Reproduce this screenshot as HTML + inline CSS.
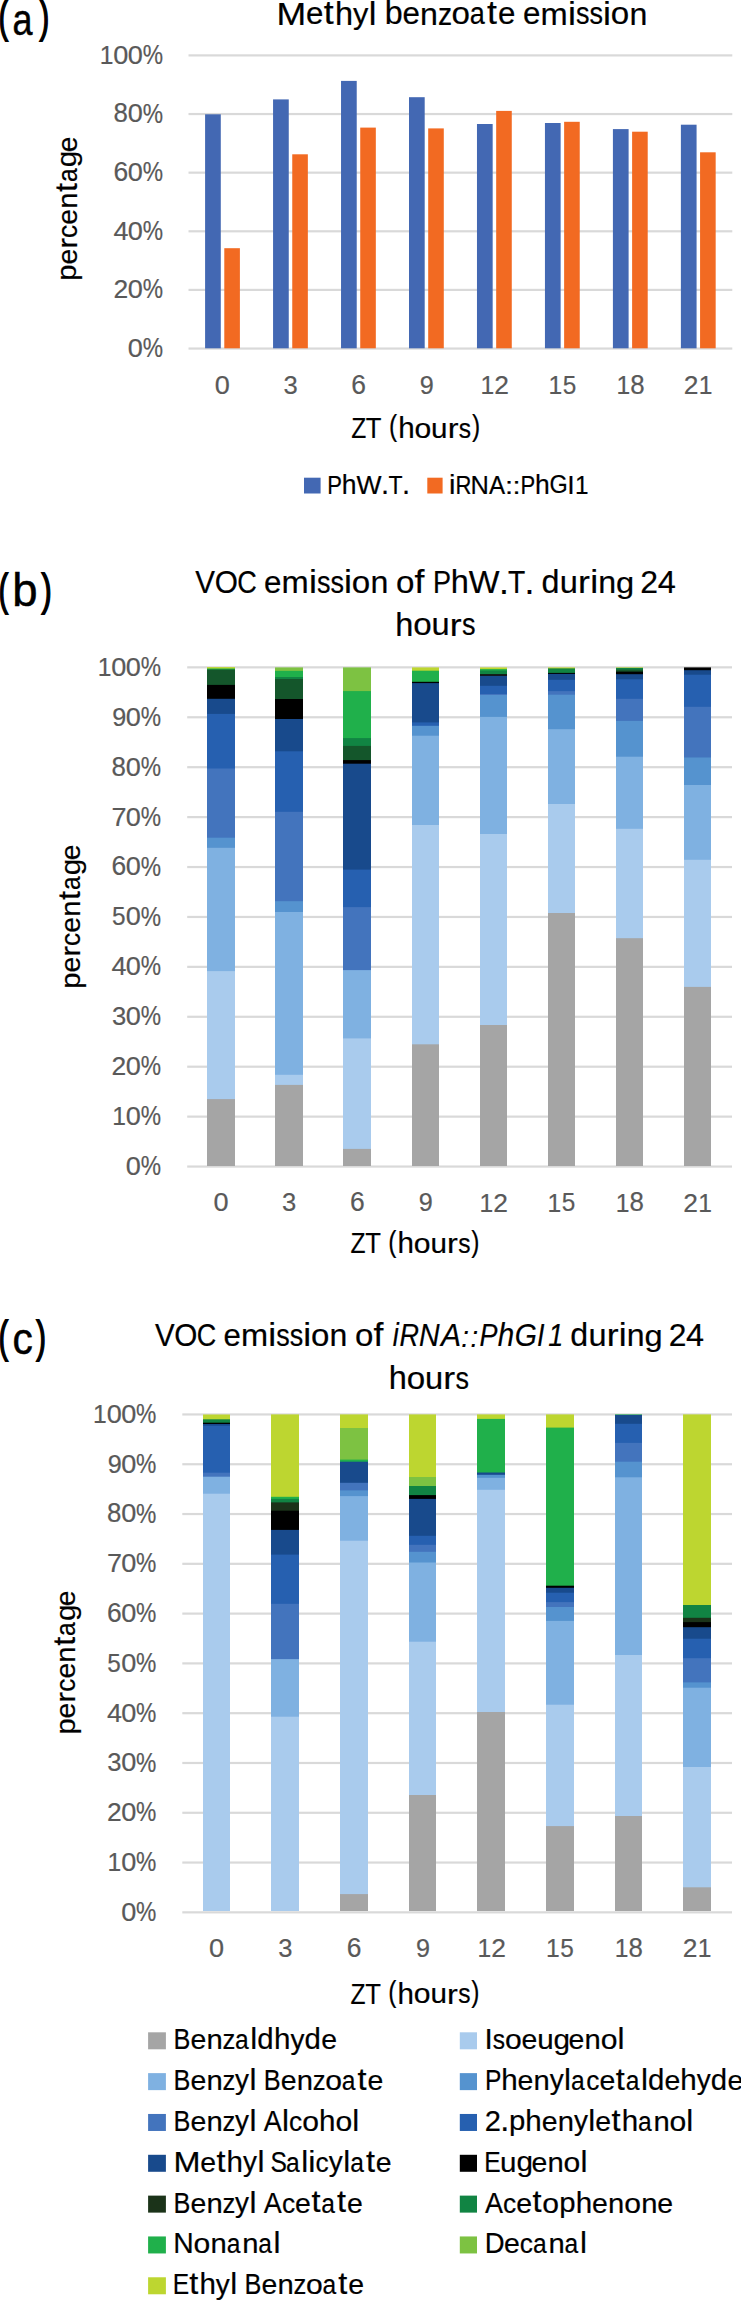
<!DOCTYPE html>
<html><head><meta charset="utf-8"><title>VOC emission charts</title>
<style>
html,body{margin:0;padding:0;background:#fff;}
body{width:741px;height:2300px;overflow:hidden;}
svg{display:block;font-family:"Liberation Sans", sans-serif;}
</style></head>
<body>
<svg width="741" height="2300" viewBox="0 0 741 2300">
<rect x="0" y="0" width="741" height="2300" fill="#fff"/>
<text transform="translate(-1.20,32.45) scale(0.6089,1)" font-size="45.24" fill="#000" stroke="#000" stroke-width="1.90">(</text>
<text transform="translate(12.61,34.51) scale(0.8164,1)" font-size="44.00" fill="#000" stroke="#000" stroke-width="0.50">a</text>
<text transform="translate(39.71,32.45) scale(0.6172,1)" font-size="45.24" fill="#000" stroke="#000" stroke-width="1.90">)</text>
<g font-size="31.83" fill="#000" stroke="#000" stroke-width="0.20"><text transform="translate(276.40,24.60) scale(1.120,1.008)">M</text><text transform="translate(305.95,24.46) scale(0.983,0.968)">e</text><text transform="translate(323.84,24.43) scale(1.120,1.062)">t</text><text transform="translate(334.94,24.60) scale(1.022,1.034)">h</text><text transform="translate(352.99,23.85) scale(0.966,0.940)">y</text><text transform="translate(368.81,24.60) scale(1.087,1.034)">l</text><text transform="translate(384.72,24.45) scale(1.014,1.028)">b</text><text transform="translate(402.54,24.46) scale(0.983,0.968)">e</text><text transform="translate(420.12,24.60) scale(1.010,0.976)">n</text><text transform="translate(437.88,24.60) scale(0.888,0.984)">z</text><text transform="translate(451.52,24.46) scale(1.041,0.968)">o</text><text transform="translate(469.79,24.46) scale(0.850,0.968)">a</text><text transform="translate(487.09,24.43) scale(1.120,1.062)">t</text><text transform="translate(498.01,24.46) scale(0.983,0.968)">e</text><text transform="translate(523.05,24.46) scale(0.983,0.968)">e</text><text transform="translate(540.60,24.60) scale(1.025,0.976)">m</text><text transform="translate(568.00,24.60) scale(1.120,1.034)">i</text><text transform="translate(576.02,24.46) scale(0.850,0.977)">s</text><text transform="translate(589.55,24.46) scale(0.850,0.977)">s</text><text transform="translate(603.01,24.60) scale(1.120,1.034)">i</text><text transform="translate(610.77,24.46) scale(1.041,0.968)">o</text><text transform="translate(629.47,24.60) scale(1.010,0.976)">n</text></g>
<rect x="188.50" y="54.30" width="543.80" height="2.20" fill="#D9D9D9"/>
<rect x="188.50" y="112.93" width="543.80" height="2.20" fill="#D9D9D9"/>
<rect x="188.50" y="171.56" width="543.80" height="2.20" fill="#D9D9D9"/>
<rect x="188.50" y="230.19" width="543.80" height="2.20" fill="#D9D9D9"/>
<rect x="188.50" y="288.82" width="543.80" height="2.20" fill="#D9D9D9"/>
<rect x="188.50" y="347.45" width="543.80" height="2.20" fill="#D9D9D9"/>
<g font-size="26.31" fill="#595959" stroke="#595959" stroke-width="0.20"><text transform="translate(99.70,63.95) scale(0.937,1.008)">1</text><text transform="translate(113.25,63.83) scale(1.030,0.995)">0</text><text transform="translate(127.74,63.83) scale(1.030,0.995)">0</text><text transform="translate(142.67,63.95) scale(0.868,1.079)">%</text></g>
<g font-size="26.31" fill="#595959" stroke="#595959" stroke-width="0.20"><text transform="translate(113.60,122.44) scale(0.983,1.064)">8</text><text transform="translate(127.74,122.46) scale(1.030,0.995)">0</text><text transform="translate(142.67,122.58) scale(0.868,1.079)">%</text></g>
<g font-size="26.31" fill="#595959" stroke="#595959" stroke-width="0.20"><text transform="translate(113.58,181.08) scale(1.005,1.049)">6</text><text transform="translate(127.74,181.09) scale(1.030,0.995)">0</text><text transform="translate(142.67,181.21) scale(0.868,1.079)">%</text></g>
<g font-size="26.31" fill="#595959" stroke="#595959" stroke-width="0.20"><text transform="translate(113.51,239.84) scale(1.022,1.008)">4</text><text transform="translate(127.74,239.72) scale(1.030,0.995)">0</text><text transform="translate(142.67,239.84) scale(0.868,1.079)">%</text></g>
<g font-size="26.31" fill="#595959" stroke="#595959" stroke-width="0.20"><text transform="translate(113.58,298.47) scale(1.003,1.002)">2</text><text transform="translate(127.74,298.35) scale(1.030,0.995)">0</text><text transform="translate(142.67,298.47) scale(0.868,1.079)">%</text></g>
<g font-size="26.31" fill="#595959" stroke="#595959" stroke-width="0.20"><text transform="translate(127.74,356.98) scale(1.030,0.995)">0</text><text transform="translate(142.67,357.10) scale(0.868,1.079)">%</text></g>
<rect x="205.09" y="114.30" width="15.70" height="234.00" fill="#4368B3"/>
<rect x="224.29" y="248.20" width="15.60" height="100.10" fill="#F26A22"/>
<rect x="273.06" y="99.40" width="15.70" height="248.90" fill="#4368B3"/>
<rect x="292.25" y="154.30" width="15.60" height="194.00" fill="#F26A22"/>
<rect x="341.03" y="80.90" width="15.70" height="267.40" fill="#4368B3"/>
<rect x="360.23" y="127.60" width="15.60" height="220.70" fill="#F26A22"/>
<rect x="409.00" y="97.20" width="15.70" height="251.10" fill="#4368B3"/>
<rect x="428.19" y="128.40" width="15.60" height="219.90" fill="#F26A22"/>
<rect x="476.97" y="124.00" width="15.70" height="224.30" fill="#4368B3"/>
<rect x="496.17" y="110.90" width="15.60" height="237.40" fill="#F26A22"/>
<rect x="544.94" y="123.00" width="15.70" height="225.30" fill="#4368B3"/>
<rect x="564.13" y="121.80" width="15.60" height="226.50" fill="#F26A22"/>
<rect x="612.91" y="129.10" width="15.70" height="219.20" fill="#4368B3"/>
<rect x="632.11" y="131.70" width="15.60" height="216.60" fill="#F26A22"/>
<rect x="680.88" y="124.70" width="15.70" height="223.60" fill="#4368B3"/>
<rect x="700.07" y="152.30" width="15.60" height="196.00" fill="#F26A22"/>
<g font-size="26.31" fill="#595959" stroke="#595959" stroke-width="0.20"><text transform="translate(214.87,394.28) scale(1.030,0.995)">0</text></g>
<g font-size="26.31" fill="#595959" stroke="#595959" stroke-width="0.20"><text transform="translate(283.47,394.28) scale(0.973,0.995)">3</text></g>
<g font-size="26.31" fill="#595959" stroke="#595959" stroke-width="0.20"><text transform="translate(351.14,394.27) scale(1.005,1.049)">6</text></g>
<g font-size="26.31" fill="#595959" stroke="#595959" stroke-width="0.20"><text transform="translate(419.87,394.14) scale(0.958,0.987)">9</text></g>
<g font-size="26.31" fill="#595959" stroke="#595959" stroke-width="0.20"><text transform="translate(480.45,394.40) scale(0.937,1.008)">1</text><text transform="translate(494.33,394.40) scale(1.003,1.002)">2</text></g>
<g font-size="26.31" fill="#595959" stroke="#595959" stroke-width="0.20"><text transform="translate(548.42,394.40) scale(0.937,1.008)">1</text><text transform="translate(562.65,394.28) scale(0.927,1.002)">5</text></g>
<g font-size="26.31" fill="#595959" stroke="#595959" stroke-width="0.20"><text transform="translate(616.39,394.40) scale(0.937,1.008)">1</text><text transform="translate(630.29,394.26) scale(0.983,1.064)">8</text></g>
<g font-size="26.31" fill="#595959" stroke="#595959" stroke-width="0.20"><text transform="translate(683.75,394.40) scale(1.003,1.002)">2</text><text transform="translate(698.86,394.40) scale(0.937,1.008)">1</text></g>
<g font-size="28.93" fill="#000" stroke="#000" stroke-width="0.20"><text transform="translate(351.20,438.00) scale(0.850,1.008)">Z</text><text transform="translate(365.84,438.00) scale(0.887,1.008)">T</text><text transform="translate(388.93,436.26) scale(0.850,1.011)">(</text><text transform="translate(398.14,438.00) scale(1.022,1.034)">h</text><text transform="translate(414.43,437.88) scale(1.041,0.968)">o</text><text transform="translate(431.08,437.87) scale(1.023,0.976)">u</text><text transform="translate(447.70,438.00) scale(1.120,0.976)">r</text><text transform="translate(458.73,437.87) scale(0.850,0.977)">s</text><text transform="translate(471.93,436.14) scale(0.850,1.006)">)</text></g>
<g font-size="28.89" fill="#000" stroke="#000" stroke-width="0.20" transform="translate(76.80,278.80) rotate(-90)"><text transform="translate(-1.90,-0.65) scale(1.014,0.935)">p</text><text transform="translate(14.26,-0.12) scale(0.983,0.968)">e</text><text transform="translate(29.98,0.00) scale(1.120,0.976)">r</text><text transform="translate(40.91,-0.12) scale(0.912,0.968)">c</text><text transform="translate(54.11,-0.12) scale(0.983,0.968)">e</text><text transform="translate(70.07,0.00) scale(1.010,0.976)">n</text><text transform="translate(86.84,-0.15) scale(1.120,1.062)">t</text><text transform="translate(96.70,-0.12) scale(0.850,0.968)">a</text><text transform="translate(111.58,-0.57) scale(1.027,0.948)">g</text><text transform="translate(126.57,-0.12) scale(0.983,0.968)">e</text></g>
<rect x="304.00" y="477.70" width="16.60" height="15.80" fill="#4368B3"/>
<g font-size="25.94" fill="#000" stroke="#000" stroke-width="0.20"><text transform="translate(327.19,493.50) scale(0.850,1.008)">P</text><text transform="translate(341.71,493.50) scale(1.022,1.034)">h</text><text transform="translate(356.42,493.50) scale(1.023,1.008)">W</text><text transform="translate(381.03,493.64) scale(1.120,1.150)">.</text><text transform="translate(388.44,493.50) scale(0.887,1.008)">T</text><text transform="translate(401.89,493.64) scale(1.120,1.150)">.</text></g>
<rect x="427.30" y="477.70" width="15.30" height="15.80" fill="#F26A22"/>
<g font-size="25.94" fill="#000" stroke="#000" stroke-width="0.20"><text transform="translate(448.90,493.50) scale(1.120,1.034)">i</text><text transform="translate(455.39,493.50) scale(0.850,1.008)">R</text><text transform="translate(470.57,493.50) scale(0.980,1.008)">N</text><text transform="translate(488.98,493.50) scale(0.932,1.008)">A</text><text transform="translate(504.89,493.64) scale(1.120,0.923)">:</text><text transform="translate(512.44,493.64) scale(1.120,0.923)">:</text><text transform="translate(520.41,493.50) scale(0.850,1.008)">P</text><text transform="translate(534.93,493.50) scale(1.022,1.034)">h</text><text transform="translate(549.44,493.38) scale(0.904,0.995)">G</text><text transform="translate(567.27,493.50) scale(1.030,1.008)">I</text><text transform="translate(575.10,493.50) scale(0.937,1.008)">1</text></g>
<text transform="translate(-1.20,605.05) scale(0.6089,1)" font-size="45.24" fill="#000" stroke="#000" stroke-width="1.90">(</text>
<text transform="translate(12.29,606.08) scale(0.9790,1)" font-size="46.53" fill="#000" stroke="#000" stroke-width="0.50">b</text>
<text transform="translate(41.70,605.05) scale(0.6506,1)" font-size="45.24" fill="#000" stroke="#000" stroke-width="1.90">)</text>
<g font-size="31.83" fill="#000" stroke="#000" stroke-width="0.20"><text transform="translate(195.23,593.40) scale(0.929,1.008)">V</text><text transform="translate(214.71,593.26) scale(0.936,0.995)">O</text><text transform="translate(237.15,593.26) scale(0.850,0.995)">C</text><text transform="translate(263.98,593.26) scale(0.983,0.968)">e</text><text transform="translate(281.54,593.40) scale(1.025,0.976)">m</text><text transform="translate(308.93,593.40) scale(1.120,1.034)">i</text><text transform="translate(316.95,593.26) scale(0.850,0.977)">s</text><text transform="translate(330.48,593.26) scale(0.850,0.977)">s</text><text transform="translate(343.94,593.40) scale(1.120,1.034)">i</text><text transform="translate(351.71,593.26) scale(1.041,0.968)">o</text><text transform="translate(370.40,593.40) scale(1.010,0.976)">n</text><text transform="translate(395.95,593.26) scale(1.041,0.968)">o</text><text transform="translate(414.42,593.40) scale(1.120,1.034)">f</text><text transform="translate(432.89,593.40) scale(0.850,1.008)">P</text><text transform="translate(450.71,593.40) scale(1.022,1.034)">h</text><text transform="translate(468.76,593.40) scale(1.023,1.008)">W</text><text transform="translate(498.95,593.57) scale(1.120,1.150)">.</text><text transform="translate(508.05,593.40) scale(0.887,1.008)">T</text><text transform="translate(524.55,593.57) scale(1.120,1.150)">.</text><text transform="translate(541.60,593.25) scale(1.014,1.028)">d</text><text transform="translate(559.82,593.26) scale(1.023,0.976)">u</text><text transform="translate(578.10,593.40) scale(1.120,0.976)">r</text><text transform="translate(590.16,593.40) scale(1.120,1.034)">i</text><text transform="translate(598.37,593.40) scale(1.010,0.976)">n</text><text transform="translate(615.95,592.77) scale(1.027,0.948)">g</text><text transform="translate(640.29,593.40) scale(1.003,1.002)">2</text><text transform="translate(657.73,593.40) scale(1.022,1.008)">4</text></g>
<g font-size="31.83" fill="#000" stroke="#000" stroke-width="0.20"><text transform="translate(395.27,635.60) scale(1.022,1.034)">h</text><text transform="translate(413.19,635.46) scale(1.041,0.968)">o</text><text transform="translate(431.51,635.46) scale(1.023,0.976)">u</text><text transform="translate(449.79,635.60) scale(1.120,0.976)">r</text><text transform="translate(461.93,635.46) scale(0.850,0.977)">s</text></g>
<rect x="187.20" y="666.25" width="544.80" height="2.20" fill="#D9D9D9"/>
<rect x="187.20" y="716.17" width="544.80" height="2.20" fill="#D9D9D9"/>
<rect x="187.20" y="766.09" width="544.80" height="2.20" fill="#D9D9D9"/>
<rect x="187.20" y="816.01" width="544.80" height="2.20" fill="#D9D9D9"/>
<rect x="187.20" y="865.93" width="544.80" height="2.20" fill="#D9D9D9"/>
<rect x="187.20" y="915.85" width="544.80" height="2.20" fill="#D9D9D9"/>
<rect x="187.20" y="965.77" width="544.80" height="2.20" fill="#D9D9D9"/>
<rect x="187.20" y="1015.69" width="544.80" height="2.20" fill="#D9D9D9"/>
<rect x="187.20" y="1065.61" width="544.80" height="2.20" fill="#D9D9D9"/>
<rect x="187.20" y="1115.53" width="544.80" height="2.20" fill="#D9D9D9"/>
<rect x="187.20" y="1165.45" width="544.80" height="2.20" fill="#D9D9D9"/>
<g font-size="26.31" fill="#595959" stroke="#595959" stroke-width="0.20"><text transform="translate(97.70,675.90) scale(0.937,1.008)">1</text><text transform="translate(111.25,675.78) scale(1.030,0.995)">0</text><text transform="translate(125.74,675.78) scale(1.030,0.995)">0</text><text transform="translate(140.67,675.90) scale(0.868,1.079)">%</text></g>
<g font-size="26.31" fill="#595959" stroke="#595959" stroke-width="0.20"><text transform="translate(112.34,725.56) scale(0.958,0.987)">9</text><text transform="translate(125.74,725.70) scale(1.030,0.995)">0</text><text transform="translate(140.67,725.82) scale(0.868,1.079)">%</text></g>
<g font-size="26.31" fill="#595959" stroke="#595959" stroke-width="0.20"><text transform="translate(111.60,775.60) scale(0.983,1.064)">8</text><text transform="translate(125.74,775.62) scale(1.030,0.995)">0</text><text transform="translate(140.67,775.74) scale(0.868,1.079)">%</text></g>
<g font-size="26.31" fill="#595959" stroke="#595959" stroke-width="0.20"><text transform="translate(111.55,825.66) scale(1.027,1.008)">7</text><text transform="translate(125.74,825.54) scale(1.030,0.995)">0</text><text transform="translate(140.67,825.66) scale(0.868,1.079)">%</text></g>
<g font-size="26.31" fill="#595959" stroke="#595959" stroke-width="0.20"><text transform="translate(111.58,875.45) scale(1.005,1.049)">6</text><text transform="translate(125.74,875.46) scale(1.030,0.995)">0</text><text transform="translate(140.67,875.58) scale(0.868,1.079)">%</text></g>
<g font-size="26.31" fill="#595959" stroke="#595959" stroke-width="0.20"><text transform="translate(111.93,925.38) scale(0.927,1.002)">5</text><text transform="translate(125.74,925.38) scale(1.030,0.995)">0</text><text transform="translate(140.67,925.50) scale(0.868,1.079)">%</text></g>
<g font-size="26.31" fill="#595959" stroke="#595959" stroke-width="0.20"><text transform="translate(111.51,975.42) scale(1.022,1.008)">4</text><text transform="translate(125.74,975.30) scale(1.030,0.995)">0</text><text transform="translate(140.67,975.42) scale(0.868,1.079)">%</text></g>
<g font-size="26.31" fill="#595959" stroke="#595959" stroke-width="0.20"><text transform="translate(111.88,1025.22) scale(0.973,0.995)">3</text><text transform="translate(125.74,1025.22) scale(1.030,0.995)">0</text><text transform="translate(140.67,1025.34) scale(0.868,1.079)">%</text></g>
<g font-size="26.31" fill="#595959" stroke="#595959" stroke-width="0.20"><text transform="translate(111.58,1075.26) scale(1.003,1.002)">2</text><text transform="translate(125.74,1075.14) scale(1.030,0.995)">0</text><text transform="translate(140.67,1075.26) scale(0.868,1.079)">%</text></g>
<g font-size="26.31" fill="#595959" stroke="#595959" stroke-width="0.20"><text transform="translate(112.20,1125.18) scale(0.937,1.008)">1</text><text transform="translate(125.74,1125.06) scale(1.030,0.995)">0</text><text transform="translate(140.67,1125.18) scale(0.868,1.079)">%</text></g>
<g font-size="26.31" fill="#595959" stroke="#595959" stroke-width="0.20"><text transform="translate(125.74,1174.98) scale(1.030,0.995)">0</text><text transform="translate(140.67,1175.10) scale(0.868,1.079)">%</text></g>
<rect x="207.00" y="667.10" width="28.00" height="2.40" fill="#BDD630"/>
<rect x="207.00" y="668.50" width="28.00" height="2.00" fill="#20B04B"/>
<rect x="207.00" y="669.50" width="28.00" height="16.40" fill="#14562B"/>
<rect x="207.00" y="684.90" width="28.00" height="14.90" fill="#000000"/>
<rect x="207.00" y="698.80" width="28.00" height="16.10" fill="#184A8C"/>
<rect x="207.00" y="713.90" width="28.00" height="55.60" fill="#2660B0"/>
<rect x="207.00" y="768.50" width="28.00" height="70.20" fill="#4374BD"/>
<rect x="207.00" y="837.70" width="28.00" height="11.10" fill="#5593CF"/>
<rect x="207.00" y="847.80" width="28.00" height="124.30" fill="#7FB1E1"/>
<rect x="207.00" y="971.10" width="28.00" height="129.00" fill="#A9CBED"/>
<rect x="207.00" y="1099.10" width="28.00" height="66.90" fill="#A5A5A5"/>
<rect x="275.00" y="667.40" width="28.00" height="4.50" fill="#7DC242"/>
<rect x="275.00" y="670.90" width="28.00" height="7.10" fill="#20B04B"/>
<rect x="275.00" y="677.00" width="28.00" height="3.00" fill="#118443"/>
<rect x="275.00" y="679.00" width="28.00" height="21.00" fill="#14562B"/>
<rect x="275.00" y="699.00" width="28.00" height="21.00" fill="#000000"/>
<rect x="275.00" y="719.00" width="28.00" height="33.30" fill="#184A8C"/>
<rect x="275.00" y="751.30" width="28.00" height="61.50" fill="#2660B0"/>
<rect x="275.00" y="811.80" width="28.00" height="90.40" fill="#4374BD"/>
<rect x="275.00" y="901.20" width="28.00" height="11.80" fill="#5593CF"/>
<rect x="275.00" y="912.00" width="28.00" height="163.80" fill="#7FB1E1"/>
<rect x="275.00" y="1074.80" width="28.00" height="11.10" fill="#A9CBED"/>
<rect x="275.00" y="1084.90" width="28.00" height="81.10" fill="#A5A5A5"/>
<rect x="343.00" y="667.40" width="28.00" height="24.70" fill="#7DC242"/>
<rect x="343.00" y="691.10" width="28.00" height="48.00" fill="#20B04B"/>
<rect x="343.00" y="738.10" width="28.00" height="8.80" fill="#118443"/>
<rect x="343.00" y="745.90" width="28.00" height="15.20" fill="#14562B"/>
<rect x="343.00" y="760.10" width="28.00" height="4.60" fill="#000000"/>
<rect x="343.00" y="763.70" width="28.00" height="106.90" fill="#184A8C"/>
<rect x="343.00" y="869.60" width="28.00" height="38.50" fill="#2660B0"/>
<rect x="343.00" y="907.10" width="28.00" height="64.00" fill="#4374BD"/>
<rect x="343.00" y="970.10" width="28.00" height="69.30" fill="#7FB1E1"/>
<rect x="343.00" y="1038.40" width="28.00" height="111.50" fill="#A9CBED"/>
<rect x="343.00" y="1148.90" width="28.00" height="17.10" fill="#A5A5A5"/>
<rect x="412.00" y="667.40" width="27.00" height="4.30" fill="#BDD630"/>
<rect x="412.00" y="670.70" width="27.00" height="12.10" fill="#20B04B"/>
<rect x="412.00" y="681.80" width="27.00" height="2.30" fill="#000000"/>
<rect x="412.00" y="683.10" width="27.00" height="40.30" fill="#184A8C"/>
<rect x="412.00" y="722.40" width="27.00" height="4.40" fill="#2660B0"/>
<rect x="412.00" y="725.80" width="27.00" height="10.90" fill="#5593CF"/>
<rect x="412.00" y="735.70" width="27.00" height="90.30" fill="#7FB1E1"/>
<rect x="412.00" y="825.00" width="27.00" height="220.30" fill="#A9CBED"/>
<rect x="412.00" y="1044.30" width="27.00" height="121.70" fill="#A5A5A5"/>
<rect x="480.00" y="667.40" width="27.00" height="2.70" fill="#BDD630"/>
<rect x="480.00" y="669.10" width="27.00" height="2.40" fill="#20B04B"/>
<rect x="480.00" y="670.50" width="27.00" height="4.60" fill="#118443"/>
<rect x="480.00" y="674.10" width="27.00" height="2.80" fill="#141414"/>
<rect x="480.00" y="675.90" width="27.00" height="10.90" fill="#184A8C"/>
<rect x="480.00" y="685.80" width="27.00" height="9.20" fill="#2660B0"/>
<rect x="480.00" y="694.00" width="27.00" height="2.00" fill="#4374BD"/>
<rect x="480.00" y="695.00" width="27.00" height="22.90" fill="#5593CF"/>
<rect x="480.00" y="716.90" width="27.00" height="118.10" fill="#7FB1E1"/>
<rect x="480.00" y="834.00" width="27.00" height="192.00" fill="#A9CBED"/>
<rect x="480.00" y="1025.00" width="27.00" height="141.00" fill="#A5A5A5"/>
<rect x="548.00" y="667.40" width="27.00" height="2.00" fill="#BDD630"/>
<rect x="548.00" y="668.40" width="27.00" height="5.50" fill="#118443"/>
<rect x="548.00" y="672.90" width="27.00" height="2.00" fill="#000000"/>
<rect x="548.00" y="673.90" width="27.00" height="6.90" fill="#184A8C"/>
<rect x="548.00" y="679.80" width="27.00" height="12.30" fill="#2660B0"/>
<rect x="548.00" y="691.10" width="27.00" height="4.60" fill="#4374BD"/>
<rect x="548.00" y="694.70" width="27.00" height="35.50" fill="#5593CF"/>
<rect x="548.00" y="729.20" width="27.00" height="75.80" fill="#7FB1E1"/>
<rect x="548.00" y="804.00" width="27.00" height="110.00" fill="#A9CBED"/>
<rect x="548.00" y="913.00" width="27.00" height="253.00" fill="#A5A5A5"/>
<rect x="616.00" y="667.40" width="27.00" height="1.50" fill="#BDD630"/>
<rect x="616.00" y="667.90" width="27.00" height="2.70" fill="#118443"/>
<rect x="616.00" y="669.60" width="27.00" height="3.00" fill="#14562B"/>
<rect x="616.00" y="671.60" width="27.00" height="3.60" fill="#000000"/>
<rect x="616.00" y="674.20" width="27.00" height="6.10" fill="#184A8C"/>
<rect x="616.00" y="679.30" width="27.00" height="20.50" fill="#2660B0"/>
<rect x="616.00" y="698.80" width="27.00" height="23.10" fill="#4374BD"/>
<rect x="616.00" y="720.90" width="27.00" height="36.80" fill="#5593CF"/>
<rect x="616.00" y="756.70" width="27.00" height="73.10" fill="#7FB1E1"/>
<rect x="616.00" y="828.80" width="27.00" height="110.40" fill="#A9CBED"/>
<rect x="616.00" y="938.20" width="27.00" height="227.80" fill="#A5A5A5"/>
<rect x="684.00" y="667.40" width="27.00" height="3.80" fill="#000000"/>
<rect x="684.00" y="670.20" width="27.00" height="5.50" fill="#184A8C"/>
<rect x="684.00" y="674.70" width="27.00" height="33.10" fill="#2660B0"/>
<rect x="684.00" y="706.80" width="27.00" height="51.70" fill="#4374BD"/>
<rect x="684.00" y="757.50" width="27.00" height="28.50" fill="#5593CF"/>
<rect x="684.00" y="785.00" width="27.00" height="75.80" fill="#7FB1E1"/>
<rect x="684.00" y="859.80" width="27.00" height="128.10" fill="#A9CBED"/>
<rect x="684.00" y="986.90" width="27.00" height="179.10" fill="#A5A5A5"/>
<g font-size="26.31" fill="#595959" stroke="#595959" stroke-width="0.20"><text transform="translate(213.38,1211.38) scale(1.030,0.995)">0</text></g>
<g font-size="26.31" fill="#595959" stroke="#595959" stroke-width="0.20"><text transform="translate(282.12,1211.38) scale(0.973,0.995)">3</text></g>
<g font-size="26.31" fill="#595959" stroke="#595959" stroke-width="0.20"><text transform="translate(349.92,1211.37) scale(1.005,1.049)">6</text></g>
<g font-size="26.31" fill="#595959" stroke="#595959" stroke-width="0.20"><text transform="translate(418.78,1211.24) scale(0.958,0.987)">9</text></g>
<g font-size="26.31" fill="#595959" stroke="#595959" stroke-width="0.20"><text transform="translate(479.49,1211.50) scale(0.937,1.008)">1</text><text transform="translate(493.37,1211.50) scale(1.003,1.002)">2</text></g>
<g font-size="26.31" fill="#595959" stroke="#595959" stroke-width="0.20"><text transform="translate(547.59,1211.50) scale(0.937,1.008)">1</text><text transform="translate(561.81,1211.38) scale(0.927,1.002)">5</text></g>
<g font-size="26.31" fill="#595959" stroke="#595959" stroke-width="0.20"><text transform="translate(615.69,1211.50) scale(0.937,1.008)">1</text><text transform="translate(629.58,1211.36) scale(0.983,1.064)">8</text></g>
<g font-size="26.31" fill="#595959" stroke="#595959" stroke-width="0.20"><text transform="translate(683.17,1211.50) scale(1.003,1.002)">2</text><text transform="translate(698.28,1211.50) scale(0.937,1.008)">1</text></g>
<g font-size="28.93" fill="#000" stroke="#000" stroke-width="0.20"><text transform="translate(350.60,1253.40) scale(0.850,1.008)">Z</text><text transform="translate(365.24,1253.40) scale(0.887,1.008)">T</text><text transform="translate(388.33,1251.66) scale(0.850,1.011)">(</text><text transform="translate(397.54,1253.40) scale(1.022,1.034)">h</text><text transform="translate(413.83,1253.28) scale(1.041,0.968)">o</text><text transform="translate(430.48,1253.27) scale(1.023,0.976)">u</text><text transform="translate(447.10,1253.40) scale(1.120,0.976)">r</text><text transform="translate(458.13,1253.27) scale(0.850,0.977)">s</text><text transform="translate(471.33,1251.54) scale(0.850,1.006)">)</text></g>
<g font-size="28.89" fill="#000" stroke="#000" stroke-width="0.20" transform="translate(80.30,986.80) rotate(-90)"><text transform="translate(-1.90,-0.65) scale(1.014,0.935)">p</text><text transform="translate(14.26,-0.12) scale(0.983,0.968)">e</text><text transform="translate(29.98,0.00) scale(1.120,0.976)">r</text><text transform="translate(40.91,-0.12) scale(0.912,0.968)">c</text><text transform="translate(54.11,-0.12) scale(0.983,0.968)">e</text><text transform="translate(70.07,0.00) scale(1.010,0.976)">n</text><text transform="translate(86.84,-0.15) scale(1.120,1.062)">t</text><text transform="translate(96.70,-0.12) scale(0.850,0.968)">a</text><text transform="translate(111.58,-0.57) scale(1.027,0.948)">g</text><text transform="translate(126.57,-0.12) scale(0.983,0.968)">e</text></g>
<text transform="translate(-1.20,1352.48) scale(0.6177,1)" font-size="44.60" fill="#000" stroke="#000" stroke-width="1.90">(</text>
<text transform="translate(12.42,1354.01) scale(0.9286,1)" font-size="43.82" fill="#000" stroke="#000" stroke-width="0.50">c</text>
<text transform="translate(36.41,1352.48) scale(0.6261,1)" font-size="44.60" fill="#000" stroke="#000" stroke-width="1.90">)</text>
<g font-size="31.74" fill="#000" stroke="#000" stroke-width="0.20"><text transform="translate(154.95,1346.40) scale(0.929,1.008)">V</text><text transform="translate(174.37,1346.26) scale(0.936,0.995)">O</text><text transform="translate(196.75,1346.26) scale(0.850,0.995)">C</text><text transform="translate(223.50,1346.27) scale(0.983,0.968)">e</text><text transform="translate(241.01,1346.40) scale(1.025,0.976)">m</text><text transform="translate(268.32,1346.40) scale(1.120,1.034)">i</text><text transform="translate(276.32,1346.26) scale(0.850,0.977)">s</text><text transform="translate(289.81,1346.26) scale(0.850,0.977)">s</text><text transform="translate(303.23,1346.40) scale(1.120,1.034)">i</text><text transform="translate(310.97,1346.27) scale(1.041,0.968)">o</text><text transform="translate(329.61,1346.40) scale(1.010,0.976)">n</text><text transform="translate(355.09,1346.27) scale(1.041,0.968)">o</text><text transform="translate(373.51,1346.40) scale(1.120,1.034)">f</text><text transform="translate(392.79,1346.40) scale(0.850,1.034)" font-style="italic">i</text><text transform="translate(399.51,1346.40) scale(0.850,1.008)" font-style="italic">R</text><text transform="translate(419.08,1346.40) scale(0.899,1.008)" font-style="italic">N</text><text transform="translate(441.09,1346.40) scale(0.948,1.008)" font-style="italic">A</text><text transform="translate(461.20,1346.57) scale(0.870,0.923)" font-style="italic">:</text><text transform="translate(470.43,1346.57) scale(0.870,0.923)" font-style="italic">:</text><text transform="translate(479.48,1346.40) scale(0.850,1.008)" font-style="italic">P</text><text transform="translate(497.80,1346.40) scale(0.933,1.034)" font-style="italic">h</text><text transform="translate(514.73,1346.26) scale(0.897,0.995)" font-style="italic">G</text><text transform="translate(537.00,1346.40) scale(0.850,1.008)" font-style="italic">I</text><text transform="translate(548.13,1346.40) scale(0.850,1.008)" font-style="italic">1</text><text transform="translate(570.26,1346.25) scale(1.014,1.028)">d</text><text transform="translate(588.43,1346.26) scale(1.023,0.976)">u</text><text transform="translate(606.66,1346.40) scale(1.120,0.976)">r</text><text transform="translate(618.68,1346.40) scale(1.120,1.034)">i</text><text transform="translate(626.87,1346.40) scale(1.010,0.976)">n</text><text transform="translate(644.40,1345.77) scale(1.027,0.948)">g</text><text transform="translate(668.67,1346.40) scale(1.003,1.002)">2</text><text transform="translate(686.06,1346.40) scale(1.022,1.008)">4</text></g>
<g font-size="31.83" fill="#000" stroke="#000" stroke-width="0.20"><text transform="translate(388.72,1388.90) scale(1.022,1.034)">h</text><text transform="translate(406.64,1388.76) scale(1.041,0.968)">o</text><text transform="translate(424.96,1388.76) scale(1.023,0.976)">u</text><text transform="translate(443.24,1388.90) scale(1.120,0.976)">r</text><text transform="translate(455.38,1388.76) scale(0.850,0.977)">s</text></g>
<rect x="182.30" y="1413.35" width="549.70" height="2.20" fill="#D9D9D9"/>
<rect x="182.30" y="1463.14" width="549.70" height="2.20" fill="#D9D9D9"/>
<rect x="182.30" y="1512.93" width="549.70" height="2.20" fill="#D9D9D9"/>
<rect x="182.30" y="1562.72" width="549.70" height="2.20" fill="#D9D9D9"/>
<rect x="182.30" y="1612.51" width="549.70" height="2.20" fill="#D9D9D9"/>
<rect x="182.30" y="1662.30" width="549.70" height="2.20" fill="#D9D9D9"/>
<rect x="182.30" y="1712.09" width="549.70" height="2.20" fill="#D9D9D9"/>
<rect x="182.30" y="1761.88" width="549.70" height="2.20" fill="#D9D9D9"/>
<rect x="182.30" y="1811.67" width="549.70" height="2.20" fill="#D9D9D9"/>
<rect x="182.30" y="1861.46" width="549.70" height="2.20" fill="#D9D9D9"/>
<rect x="182.30" y="1911.25" width="549.70" height="2.20" fill="#D9D9D9"/>
<g font-size="26.31" fill="#595959" stroke="#595959" stroke-width="0.20"><text transform="translate(93.10,1423.00) scale(0.937,1.008)">1</text><text transform="translate(106.65,1422.88) scale(1.030,0.995)">0</text><text transform="translate(121.14,1422.88) scale(1.030,0.995)">0</text><text transform="translate(136.07,1423.00) scale(0.868,1.079)">%</text></g>
<g font-size="26.31" fill="#595959" stroke="#595959" stroke-width="0.20"><text transform="translate(107.74,1472.53) scale(0.958,0.987)">9</text><text transform="translate(121.14,1472.67) scale(1.030,0.995)">0</text><text transform="translate(136.07,1472.79) scale(0.868,1.079)">%</text></g>
<g font-size="26.31" fill="#595959" stroke="#595959" stroke-width="0.20"><text transform="translate(107.00,1522.44) scale(0.983,1.064)">8</text><text transform="translate(121.14,1522.46) scale(1.030,0.995)">0</text><text transform="translate(136.07,1522.58) scale(0.868,1.079)">%</text></g>
<g font-size="26.31" fill="#595959" stroke="#595959" stroke-width="0.20"><text transform="translate(106.95,1572.37) scale(1.027,1.008)">7</text><text transform="translate(121.14,1572.25) scale(1.030,0.995)">0</text><text transform="translate(136.07,1572.37) scale(0.868,1.079)">%</text></g>
<g font-size="26.31" fill="#595959" stroke="#595959" stroke-width="0.20"><text transform="translate(106.98,1622.03) scale(1.005,1.049)">6</text><text transform="translate(121.14,1622.04) scale(1.030,0.995)">0</text><text transform="translate(136.07,1622.16) scale(0.868,1.079)">%</text></g>
<g font-size="26.31" fill="#595959" stroke="#595959" stroke-width="0.20"><text transform="translate(107.33,1671.83) scale(0.927,1.002)">5</text><text transform="translate(121.14,1671.83) scale(1.030,0.995)">0</text><text transform="translate(136.07,1671.95) scale(0.868,1.079)">%</text></g>
<g font-size="26.31" fill="#595959" stroke="#595959" stroke-width="0.20"><text transform="translate(106.91,1721.74) scale(1.022,1.008)">4</text><text transform="translate(121.14,1721.62) scale(1.030,0.995)">0</text><text transform="translate(136.07,1721.74) scale(0.868,1.079)">%</text></g>
<g font-size="26.31" fill="#595959" stroke="#595959" stroke-width="0.20"><text transform="translate(107.28,1771.41) scale(0.973,0.995)">3</text><text transform="translate(121.14,1771.41) scale(1.030,0.995)">0</text><text transform="translate(136.07,1771.53) scale(0.868,1.079)">%</text></g>
<g font-size="26.31" fill="#595959" stroke="#595959" stroke-width="0.20"><text transform="translate(106.98,1821.32) scale(1.003,1.002)">2</text><text transform="translate(121.14,1821.20) scale(1.030,0.995)">0</text><text transform="translate(136.07,1821.32) scale(0.868,1.079)">%</text></g>
<g font-size="26.31" fill="#595959" stroke="#595959" stroke-width="0.20"><text transform="translate(107.60,1871.11) scale(0.937,1.008)">1</text><text transform="translate(121.14,1870.99) scale(1.030,0.995)">0</text><text transform="translate(136.07,1871.11) scale(0.868,1.079)">%</text></g>
<g font-size="26.31" fill="#595959" stroke="#595959" stroke-width="0.20"><text transform="translate(121.14,1920.78) scale(1.030,0.995)">0</text><text transform="translate(136.07,1920.90) scale(0.868,1.079)">%</text></g>
<rect x="203.00" y="1414.50" width="27.00" height="5.80" fill="#BDD630"/>
<rect x="203.00" y="1419.30" width="27.00" height="4.40" fill="#118443"/>
<rect x="203.00" y="1422.70" width="27.00" height="2.30" fill="#000000"/>
<rect x="203.00" y="1424.00" width="27.00" height="2.70" fill="#184A8C"/>
<rect x="203.00" y="1425.70" width="27.00" height="48.00" fill="#2660B0"/>
<rect x="203.00" y="1472.70" width="27.00" height="5.00" fill="#4374BD"/>
<rect x="203.00" y="1476.70" width="27.00" height="18.00" fill="#7FB1E1"/>
<rect x="203.00" y="1493.70" width="27.00" height="417.30" fill="#A9CBED"/>
<rect x="271.00" y="1414.40" width="28.00" height="83.40" fill="#BDD630"/>
<rect x="271.00" y="1496.80" width="28.00" height="3.10" fill="#20B04B"/>
<rect x="271.00" y="1498.90" width="28.00" height="4.50" fill="#118443"/>
<rect x="271.00" y="1502.40" width="28.00" height="9.30" fill="#1B3319"/>
<rect x="271.00" y="1510.70" width="28.00" height="20.20" fill="#000000"/>
<rect x="271.00" y="1529.90" width="28.00" height="25.70" fill="#184A8C"/>
<rect x="271.00" y="1554.60" width="28.00" height="50.20" fill="#2660B0"/>
<rect x="271.00" y="1603.80" width="28.00" height="56.30" fill="#4374BD"/>
<rect x="271.00" y="1659.10" width="28.00" height="58.60" fill="#7FB1E1"/>
<rect x="271.00" y="1716.70" width="28.00" height="194.30" fill="#A9CBED"/>
<rect x="340.00" y="1414.40" width="28.00" height="14.60" fill="#BDD630"/>
<rect x="340.00" y="1428.00" width="28.00" height="32.60" fill="#7DC242"/>
<rect x="340.00" y="1459.60" width="28.00" height="3.10" fill="#20B04B"/>
<rect x="340.00" y="1461.70" width="28.00" height="22.10" fill="#184A8C"/>
<rect x="340.00" y="1482.80" width="28.00" height="8.60" fill="#4374BD"/>
<rect x="340.00" y="1490.40" width="28.00" height="6.70" fill="#5593CF"/>
<rect x="340.00" y="1496.10" width="28.00" height="45.60" fill="#7FB1E1"/>
<rect x="340.00" y="1540.70" width="28.00" height="354.40" fill="#A9CBED"/>
<rect x="340.00" y="1894.10" width="28.00" height="16.90" fill="#A5A5A5"/>
<rect x="409.00" y="1414.40" width="27.00" height="63.60" fill="#BDD630"/>
<rect x="409.00" y="1477.00" width="27.00" height="10.00" fill="#7DC242"/>
<rect x="409.00" y="1486.00" width="27.00" height="10.10" fill="#118443"/>
<rect x="409.00" y="1495.10" width="27.00" height="4.80" fill="#000000"/>
<rect x="409.00" y="1498.90" width="27.00" height="37.90" fill="#184A8C"/>
<rect x="409.00" y="1535.80" width="27.00" height="10.00" fill="#2660B0"/>
<rect x="409.00" y="1544.80" width="27.00" height="8.00" fill="#4374BD"/>
<rect x="409.00" y="1551.80" width="27.00" height="11.70" fill="#5593CF"/>
<rect x="409.00" y="1562.50" width="27.00" height="80.20" fill="#7FB1E1"/>
<rect x="409.00" y="1641.70" width="27.00" height="154.30" fill="#A9CBED"/>
<rect x="409.00" y="1795.00" width="27.00" height="116.00" fill="#A5A5A5"/>
<rect x="477.00" y="1414.40" width="28.00" height="5.50" fill="#BDD630"/>
<rect x="477.00" y="1418.90" width="28.00" height="54.60" fill="#20B04B"/>
<rect x="477.00" y="1472.50" width="28.00" height="3.30" fill="#184A8C"/>
<rect x="477.00" y="1474.80" width="28.00" height="4.00" fill="#5593CF"/>
<rect x="477.00" y="1477.80" width="28.00" height="13.00" fill="#7FB1E1"/>
<rect x="477.00" y="1489.80" width="28.00" height="223.20" fill="#A9CBED"/>
<rect x="477.00" y="1712.00" width="28.00" height="199.00" fill="#A5A5A5"/>
<rect x="546.00" y="1414.40" width="28.00" height="14.20" fill="#BDD630"/>
<rect x="546.00" y="1427.60" width="28.00" height="159.10" fill="#20B04B"/>
<rect x="546.00" y="1585.70" width="28.00" height="3.10" fill="#000000"/>
<rect x="546.00" y="1587.80" width="28.00" height="5.90" fill="#184A8C"/>
<rect x="546.00" y="1592.70" width="28.00" height="10.40" fill="#2660B0"/>
<rect x="546.00" y="1602.10" width="28.00" height="5.90" fill="#4374BD"/>
<rect x="546.00" y="1607.00" width="28.00" height="14.90" fill="#5593CF"/>
<rect x="546.00" y="1620.90" width="28.00" height="84.80" fill="#7FB1E1"/>
<rect x="546.00" y="1704.70" width="28.00" height="122.40" fill="#A9CBED"/>
<rect x="546.00" y="1826.10" width="28.00" height="84.90" fill="#A5A5A5"/>
<rect x="615.00" y="1414.40" width="27.00" height="1.50" fill="#20B04B"/>
<rect x="615.00" y="1414.90" width="27.00" height="9.90" fill="#184A8C"/>
<rect x="615.00" y="1423.80" width="27.00" height="20.10" fill="#2660B0"/>
<rect x="615.00" y="1442.90" width="27.00" height="19.80" fill="#4374BD"/>
<rect x="615.00" y="1461.70" width="27.00" height="16.60" fill="#5593CF"/>
<rect x="615.00" y="1477.30" width="27.00" height="178.70" fill="#7FB1E1"/>
<rect x="615.00" y="1655.00" width="27.00" height="162.00" fill="#A9CBED"/>
<rect x="615.00" y="1816.00" width="27.00" height="95.00" fill="#A5A5A5"/>
<rect x="683.00" y="1414.40" width="28.00" height="191.60" fill="#BDD630"/>
<rect x="683.00" y="1605.00" width="28.00" height="13.80" fill="#118443"/>
<rect x="683.00" y="1617.80" width="28.00" height="5.30" fill="#1B3319"/>
<rect x="683.00" y="1622.10" width="28.00" height="6.10" fill="#000000"/>
<rect x="683.00" y="1627.20" width="28.00" height="12.50" fill="#184A8C"/>
<rect x="683.00" y="1638.70" width="28.00" height="20.50" fill="#2660B0"/>
<rect x="683.00" y="1658.20" width="28.00" height="25.20" fill="#4374BD"/>
<rect x="683.00" y="1682.40" width="28.00" height="6.30" fill="#5593CF"/>
<rect x="683.00" y="1687.70" width="28.00" height="80.30" fill="#7FB1E1"/>
<rect x="683.00" y="1767.00" width="28.00" height="121.30" fill="#A9CBED"/>
<rect x="683.00" y="1887.30" width="28.00" height="23.70" fill="#A5A5A5"/>
<g font-size="26.31" fill="#595959" stroke="#595959" stroke-width="0.20"><text transform="translate(209.03,1957.18) scale(1.030,0.995)">0</text></g>
<g font-size="26.31" fill="#595959" stroke="#595959" stroke-width="0.20"><text transform="translate(278.33,1957.18) scale(0.973,0.995)">3</text></g>
<g font-size="26.31" fill="#595959" stroke="#595959" stroke-width="0.20"><text transform="translate(346.69,1957.17) scale(1.005,1.049)">6</text></g>
<g font-size="26.31" fill="#595959" stroke="#595959" stroke-width="0.20"><text transform="translate(416.11,1957.04) scale(0.958,0.987)">9</text></g>
<g font-size="26.31" fill="#595959" stroke="#595959" stroke-width="0.20"><text transform="translate(477.38,1957.30) scale(0.937,1.008)">1</text><text transform="translate(491.26,1957.30) scale(1.003,1.002)">2</text></g>
<g font-size="26.31" fill="#595959" stroke="#595959" stroke-width="0.20"><text transform="translate(546.04,1957.30) scale(0.937,1.008)">1</text><text transform="translate(560.26,1957.18) scale(0.927,1.002)">5</text></g>
<g font-size="26.31" fill="#595959" stroke="#595959" stroke-width="0.20"><text transform="translate(614.70,1957.30) scale(0.937,1.008)">1</text><text transform="translate(628.59,1957.16) scale(0.983,1.064)">8</text></g>
<g font-size="26.31" fill="#595959" stroke="#595959" stroke-width="0.20"><text transform="translate(682.74,1957.30) scale(1.003,1.002)">2</text><text transform="translate(697.85,1957.30) scale(0.937,1.008)">1</text></g>
<g font-size="28.93" fill="#000" stroke="#000" stroke-width="0.20"><text transform="translate(350.60,2003.50) scale(0.850,1.008)">Z</text><text transform="translate(365.24,2003.50) scale(0.887,1.008)">T</text><text transform="translate(388.33,2001.76) scale(0.850,1.011)">(</text><text transform="translate(397.54,2003.50) scale(1.022,1.034)">h</text><text transform="translate(413.83,2003.38) scale(1.041,0.968)">o</text><text transform="translate(430.48,2003.37) scale(1.023,0.976)">u</text><text transform="translate(447.10,2003.50) scale(1.120,0.976)">r</text><text transform="translate(458.13,2003.37) scale(0.850,0.977)">s</text><text transform="translate(471.33,2001.64) scale(0.850,1.006)">)</text></g>
<g font-size="28.89" fill="#000" stroke="#000" stroke-width="0.20" transform="translate(75.30,1732.70) rotate(-90)"><text transform="translate(-1.90,-0.65) scale(1.014,0.935)">p</text><text transform="translate(14.26,-0.12) scale(0.983,0.968)">e</text><text transform="translate(29.98,0.00) scale(1.120,0.976)">r</text><text transform="translate(40.91,-0.12) scale(0.912,0.968)">c</text><text transform="translate(54.11,-0.12) scale(0.983,0.968)">e</text><text transform="translate(70.07,0.00) scale(1.010,0.976)">n</text><text transform="translate(86.84,-0.15) scale(1.120,1.062)">t</text><text transform="translate(96.70,-0.12) scale(0.850,0.968)">a</text><text transform="translate(111.58,-0.57) scale(1.027,0.948)">g</text><text transform="translate(126.57,-0.12) scale(0.983,0.968)">e</text></g>
<rect x="148.10" y="2032.30" width="17.80" height="17.00" fill="#A5A5A5"/>
<g font-size="28.93" fill="#000" stroke="#000" stroke-width="0.20"><text transform="translate(173.58,2049.30) scale(0.874,1.008)">B</text><text transform="translate(190.47,2049.18) scale(0.983,0.968)">e</text><text transform="translate(206.46,2049.30) scale(1.010,0.976)">n</text><text transform="translate(222.59,2049.30) scale(0.888,0.984)">z</text><text transform="translate(235.02,2049.18) scale(0.850,0.968)">a</text><text transform="translate(250.32,2049.30) scale(1.087,1.034)">l</text><text transform="translate(257.31,2049.16) scale(1.014,1.028)">d</text><text transform="translate(274.04,2049.30) scale(1.022,1.034)">h</text><text transform="translate(290.45,2048.62) scale(0.966,0.940)">y</text><text transform="translate(304.59,2049.16) scale(1.014,1.028)">d</text><text transform="translate(321.15,2049.18) scale(0.983,0.968)">e</text></g>
<rect x="148.10" y="2073.13" width="17.80" height="17.00" fill="#7FB1E1"/>
<g font-size="28.93" fill="#000" stroke="#000" stroke-width="0.20"><text transform="translate(173.58,2090.13) scale(0.874,1.008)">B</text><text transform="translate(190.47,2090.01) scale(0.983,0.968)">e</text><text transform="translate(206.46,2090.13) scale(1.010,0.976)">n</text><text transform="translate(222.59,2090.13) scale(0.888,0.984)">z</text><text transform="translate(235.12,2089.45) scale(0.966,0.940)">y</text><text transform="translate(249.49,2090.13) scale(1.087,1.034)">l</text><text transform="translate(263.84,2090.13) scale(0.874,1.008)">B</text><text transform="translate(280.73,2090.01) scale(0.983,0.968)">e</text><text transform="translate(296.72,2090.13) scale(1.010,0.976)">n</text><text transform="translate(312.86,2090.13) scale(0.888,0.984)">z</text><text transform="translate(325.26,2090.01) scale(1.041,0.968)">o</text><text transform="translate(341.87,2090.01) scale(0.850,0.968)">a</text><text transform="translate(357.59,2089.98) scale(1.120,1.062)">t</text><text transform="translate(367.51,2090.01) scale(0.983,0.968)">e</text></g>
<rect x="148.10" y="2113.96" width="17.80" height="17.00" fill="#4374BD"/>
<g font-size="28.93" fill="#000" stroke="#000" stroke-width="0.20"><text transform="translate(173.58,2130.96) scale(0.874,1.008)">B</text><text transform="translate(190.47,2130.84) scale(0.983,0.968)">e</text><text transform="translate(206.46,2130.96) scale(1.010,0.976)">n</text><text transform="translate(222.59,2130.96) scale(0.888,0.984)">z</text><text transform="translate(235.12,2130.28) scale(0.966,0.940)">y</text><text transform="translate(249.49,2130.96) scale(1.087,1.034)">l</text><text transform="translate(263.82,2130.96) scale(0.932,1.008)">A</text><text transform="translate(282.02,2130.96) scale(1.087,1.034)">l</text><text transform="translate(289.12,2130.84) scale(0.912,0.968)">c</text><text transform="translate(302.27,2130.84) scale(1.041,0.968)">o</text><text transform="translate(319.09,2130.96) scale(1.022,1.034)">h</text><text transform="translate(335.38,2130.84) scale(1.041,0.968)">o</text><text transform="translate(352.23,2130.96) scale(1.087,1.034)">l</text></g>
<rect x="148.10" y="2154.79" width="17.80" height="17.00" fill="#184A8C"/>
<g font-size="28.93" fill="#000" stroke="#000" stroke-width="0.20"><text transform="translate(173.39,2171.79) scale(1.120,1.008)">M</text><text transform="translate(200.25,2171.67) scale(0.983,0.968)">e</text><text transform="translate(216.51,2171.64) scale(1.120,1.062)">t</text><text transform="translate(226.60,2171.79) scale(1.022,1.034)">h</text><text transform="translate(243.01,2171.11) scale(0.966,0.940)">y</text><text transform="translate(257.39,2171.79) scale(1.087,1.034)">l</text><text transform="translate(270.53,2171.66) scale(0.850,0.995)">S</text><text transform="translate(285.92,2171.67) scale(0.850,0.968)">a</text><text transform="translate(301.23,2171.79) scale(1.087,1.034)">l</text><text transform="translate(308.34,2171.79) scale(1.120,1.034)">i</text><text transform="translate(315.55,2171.67) scale(0.912,0.968)">c</text><text transform="translate(328.82,2171.11) scale(0.966,0.940)">y</text><text transform="translate(343.20,2171.79) scale(1.087,1.034)">l</text><text transform="translate(350.18,2171.67) scale(0.850,0.968)">a</text><text transform="translate(365.90,2171.64) scale(1.120,1.062)">t</text><text transform="translate(375.82,2171.67) scale(0.983,0.968)">e</text></g>
<rect x="148.10" y="2195.62" width="17.80" height="17.00" fill="#1B3319"/>
<g font-size="28.93" fill="#000" stroke="#000" stroke-width="0.20"><text transform="translate(173.58,2212.62) scale(0.874,1.008)">B</text><text transform="translate(190.47,2212.50) scale(0.983,0.968)">e</text><text transform="translate(206.46,2212.62) scale(1.010,0.976)">n</text><text transform="translate(222.59,2212.62) scale(0.888,0.984)">z</text><text transform="translate(235.12,2211.94) scale(0.966,0.940)">y</text><text transform="translate(249.49,2212.62) scale(1.087,1.034)">l</text><text transform="translate(263.82,2212.62) scale(0.932,1.008)">A</text><text transform="translate(281.91,2212.50) scale(0.912,0.968)">c</text><text transform="translate(295.12,2212.50) scale(0.983,0.968)">e</text><text transform="translate(311.38,2212.47) scale(1.120,1.062)">t</text><text transform="translate(321.26,2212.50) scale(0.850,0.968)">a</text><text transform="translate(336.98,2212.47) scale(1.120,1.062)">t</text><text transform="translate(346.91,2212.50) scale(0.983,0.968)">e</text></g>
<rect x="148.10" y="2236.45" width="17.80" height="17.00" fill="#20B04B"/>
<g font-size="28.93" fill="#000" stroke="#000" stroke-width="0.20"><text transform="translate(173.33,2253.45) scale(0.980,1.008)">N</text><text transform="translate(193.60,2253.33) scale(1.041,0.968)">o</text><text transform="translate(210.59,2253.45) scale(1.010,0.976)">n</text><text transform="translate(226.73,2253.33) scale(0.850,0.968)">a</text><text transform="translate(242.17,2253.45) scale(1.010,0.976)">n</text><text transform="translate(258.31,2253.33) scale(0.850,0.968)">a</text><text transform="translate(273.62,2253.45) scale(1.087,1.034)">l</text></g>
<rect x="148.10" y="2277.28" width="17.80" height="17.00" fill="#BDD630"/>
<g font-size="28.93" fill="#000" stroke="#000" stroke-width="0.20"><text transform="translate(172.83,2294.28) scale(0.850,1.008)">E</text><text transform="translate(189.33,2294.13) scale(1.120,1.062)">t</text><text transform="translate(199.42,2294.28) scale(1.022,1.034)">h</text><text transform="translate(215.83,2293.60) scale(0.966,0.940)">y</text><text transform="translate(230.21,2294.28) scale(1.087,1.034)">l</text><text transform="translate(244.56,2294.28) scale(0.874,1.008)">B</text><text transform="translate(261.45,2294.16) scale(0.983,0.968)">e</text><text transform="translate(277.43,2294.28) scale(1.010,0.976)">n</text><text transform="translate(293.57,2294.28) scale(0.888,0.984)">z</text><text transform="translate(305.97,2294.16) scale(1.041,0.968)">o</text><text transform="translate(322.58,2294.16) scale(0.850,0.968)">a</text><text transform="translate(338.30,2294.13) scale(1.120,1.062)">t</text><text transform="translate(348.23,2294.16) scale(0.983,0.968)">e</text></g>
<rect x="459.80" y="2032.30" width="17.20" height="17.00" fill="#A9CBED"/>
<g font-size="28.93" fill="#000" stroke="#000" stroke-width="0.20"><text transform="translate(484.62,2049.30) scale(1.030,1.008)">I</text><text transform="translate(492.83,2049.17) scale(0.850,0.977)">s</text><text transform="translate(504.90,2049.18) scale(1.041,0.968)">o</text><text transform="translate(521.56,2049.18) scale(0.983,0.968)">e</text><text transform="translate(537.20,2049.17) scale(1.023,0.976)">u</text><text transform="translate(553.52,2048.73) scale(1.027,0.948)">g</text><text transform="translate(568.53,2049.18) scale(0.983,0.968)">e</text><text transform="translate(584.52,2049.30) scale(1.010,0.976)">n</text><text transform="translate(600.64,2049.18) scale(1.041,0.968)">o</text><text transform="translate(617.48,2049.30) scale(1.087,1.034)">l</text></g>
<rect x="459.80" y="2073.13" width="17.20" height="17.00" fill="#5593CF"/>
<g font-size="28.93" fill="#000" stroke="#000" stroke-width="0.20"><text transform="translate(484.96,2090.13) scale(0.850,1.008)">P</text><text transform="translate(501.16,2090.13) scale(1.022,1.034)">h</text><text transform="translate(517.52,2090.01) scale(0.983,0.968)">e</text><text transform="translate(533.50,2090.13) scale(1.010,0.976)">n</text><text transform="translate(549.74,2089.45) scale(0.966,0.940)">y</text><text transform="translate(564.12,2090.13) scale(1.087,1.034)">l</text><text transform="translate(571.10,2090.01) scale(0.850,0.968)">a</text><text transform="translate(586.29,2090.01) scale(0.912,0.968)">c</text><text transform="translate(599.51,2090.01) scale(0.983,0.968)">e</text><text transform="translate(615.76,2089.98) scale(1.120,1.062)">t</text><text transform="translate(625.64,2090.01) scale(0.850,0.968)">a</text><text transform="translate(640.95,2090.13) scale(1.087,1.034)">l</text><text transform="translate(647.93,2089.99) scale(1.014,1.028)">d</text><text transform="translate(664.50,2090.01) scale(0.983,0.968)">e</text><text transform="translate(680.31,2090.13) scale(1.022,1.034)">h</text><text transform="translate(696.72,2089.45) scale(0.966,0.940)">y</text><text transform="translate(710.87,2089.99) scale(1.014,1.028)">d</text><text transform="translate(727.43,2090.01) scale(0.983,0.968)">e</text></g>
<rect x="459.80" y="2113.96" width="17.20" height="17.00" fill="#2660B0"/>
<g font-size="28.93" fill="#000" stroke="#000" stroke-width="0.20"><text transform="translate(484.75,2130.96) scale(1.003,1.002)">2</text><text transform="translate(500.20,2131.12) scale(1.120,1.150)">.</text><text transform="translate(508.96,2130.31) scale(1.014,0.935)">p</text><text transform="translate(525.32,2130.96) scale(1.022,1.034)">h</text><text transform="translate(541.67,2130.84) scale(0.983,0.968)">e</text><text transform="translate(557.66,2130.96) scale(1.010,0.976)">n</text><text transform="translate(573.90,2130.28) scale(0.966,0.940)">y</text><text transform="translate(588.28,2130.96) scale(1.087,1.034)">l</text><text transform="translate(595.30,2130.84) scale(0.983,0.968)">e</text><text transform="translate(611.56,2130.81) scale(1.120,1.062)">t</text><text transform="translate(621.65,2130.96) scale(1.022,1.034)">h</text><text transform="translate(637.96,2130.84) scale(0.850,0.968)">a</text><text transform="translate(653.41,2130.96) scale(1.010,0.976)">n</text><text transform="translate(669.53,2130.84) scale(1.041,0.968)">o</text><text transform="translate(686.37,2130.96) scale(1.087,1.034)">l</text></g>
<rect x="459.80" y="2154.79" width="17.20" height="17.00" fill="#000000"/>
<g font-size="28.93" fill="#000" stroke="#000" stroke-width="0.20"><text transform="translate(484.21,2171.79) scale(0.850,1.008)">E</text><text transform="translate(500.10,2171.66) scale(1.023,0.976)">u</text><text transform="translate(516.42,2171.22) scale(1.027,0.948)">g</text><text transform="translate(531.43,2171.67) scale(0.983,0.968)">e</text><text transform="translate(547.42,2171.79) scale(1.010,0.976)">n</text><text transform="translate(563.54,2171.67) scale(1.041,0.968)">o</text><text transform="translate(580.38,2171.79) scale(1.087,1.034)">l</text></g>
<rect x="459.80" y="2195.62" width="17.20" height="17.00" fill="#118443"/>
<g font-size="28.93" fill="#000" stroke="#000" stroke-width="0.20"><text transform="translate(484.94,2212.62) scale(0.932,1.008)">A</text><text transform="translate(503.03,2212.50) scale(0.912,0.968)">c</text><text transform="translate(516.24,2212.50) scale(0.983,0.968)">e</text><text transform="translate(532.50,2212.47) scale(1.120,1.062)">t</text><text transform="translate(542.36,2212.50) scale(1.041,0.968)">o</text><text transform="translate(559.34,2211.97) scale(1.014,0.935)">p</text><text transform="translate(575.70,2212.62) scale(1.022,1.034)">h</text><text transform="translate(592.06,2212.50) scale(0.983,0.968)">e</text><text transform="translate(608.04,2212.62) scale(1.010,0.976)">n</text><text transform="translate(624.16,2212.50) scale(1.041,0.968)">o</text><text transform="translate(641.15,2212.62) scale(1.010,0.976)">n</text><text transform="translate(657.34,2212.50) scale(0.983,0.968)">e</text></g>
<rect x="459.80" y="2236.45" width="17.20" height="17.00" fill="#7DC242"/>
<g font-size="28.93" fill="#000" stroke="#000" stroke-width="0.20"><text transform="translate(484.63,2253.45) scale(0.950,1.008)">D</text><text transform="translate(504.10,2253.33) scale(0.983,0.968)">e</text><text transform="translate(519.83,2253.33) scale(0.912,0.968)">c</text><text transform="translate(533.00,2253.33) scale(0.850,0.968)">a</text><text transform="translate(548.45,2253.45) scale(1.010,0.976)">n</text><text transform="translate(564.59,2253.33) scale(0.850,0.968)">a</text><text transform="translate(579.89,2253.45) scale(1.087,1.034)">l</text></g>
</svg>
</body></html>
